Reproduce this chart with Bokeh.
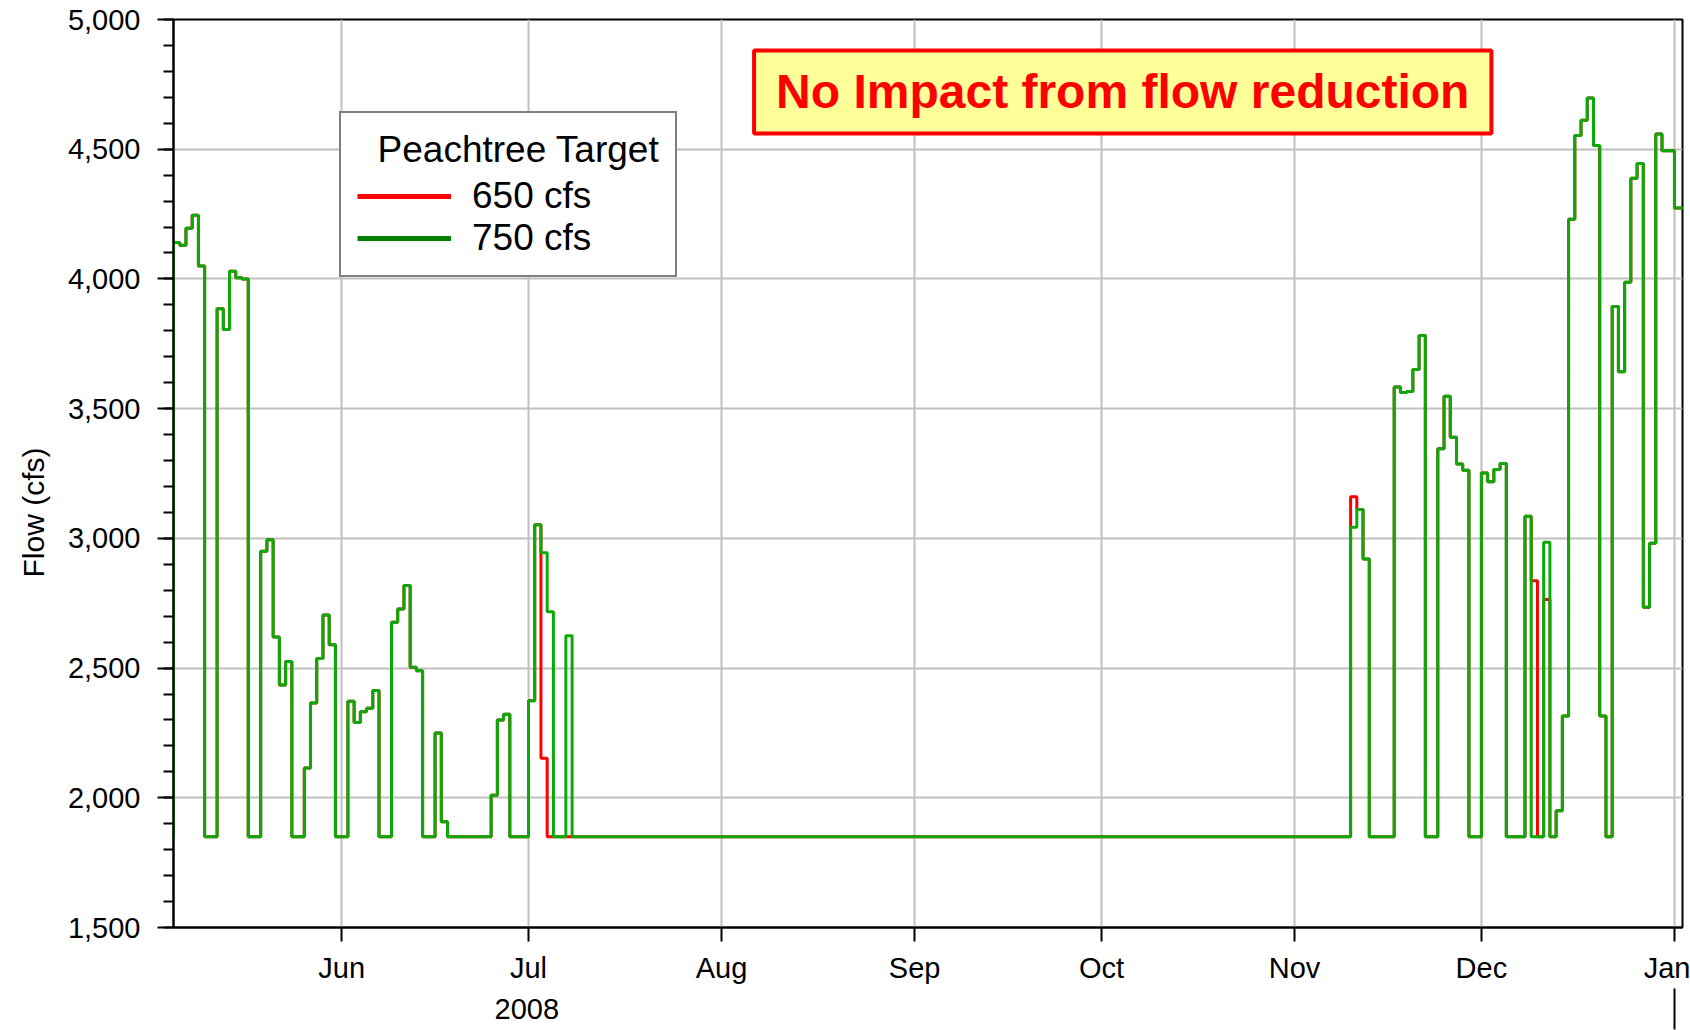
import pandas as pd
from datetime import datetime
from bokeh.plotting import figure
from bokeh.models import (Range1d, FixedTicker, SingleIntervalTicker, DatetimeTickFormatter,
                          NumeralTickFormatter, DatetimeAxis, Legend, LegendItem, Label, Title)
from bokeh.embed import file_html
from bokeh.resources import INLINE

# ---- data: daily flow change points (value holds until the next date) ----
dates = [
    "2008-05-04", "2008-05-05", "2008-05-06", "2008-05-07", "2008-05-08", "2008-05-09",
    "2008-05-10", "2008-05-12", "2008-05-13", "2008-05-14", "2008-05-15", "2008-05-16",
    "2008-05-17", "2008-05-19", "2008-05-20", "2008-05-21", "2008-05-22", "2008-05-23",
    "2008-05-24", "2008-05-26", "2008-05-27", "2008-05-28", "2008-05-29", "2008-05-30",
    "2008-05-31", "2008-06-02", "2008-06-03", "2008-06-04", "2008-06-05", "2008-06-06",
    "2008-06-07", "2008-06-09", "2008-06-10", "2008-06-11", "2008-06-12", "2008-06-13",
    "2008-06-14", "2008-06-16", "2008-06-17", "2008-06-18", "2008-06-25", "2008-06-26",
    "2008-06-27", "2008-06-28", "2008-07-01", "2008-07-02", "2008-07-03", "2008-07-04",
    "2008-07-05", "2008-07-07", "2008-07-08",
    "2008-11-10", "2008-11-11", "2008-11-12", "2008-11-13", "2008-11-17", "2008-11-18",
    "2008-11-19", "2008-11-20", "2008-11-21", "2008-11-22", "2008-11-24", "2008-11-25",
    "2008-11-26", "2008-11-27", "2008-11-28", "2008-11-29", "2008-12-01", "2008-12-02",
    "2008-12-03", "2008-12-04", "2008-12-05", "2008-12-08", "2008-12-09", "2008-12-10",
    "2008-12-11", "2008-12-12", "2008-12-13", "2008-12-14", "2008-12-15", "2008-12-16",
    "2008-12-17", "2008-12-18", "2008-12-19", "2008-12-20", "2008-12-21", "2008-12-22",
    "2008-12-23", "2008-12-24", "2008-12-25", "2008-12-26", "2008-12-27", "2008-12-28",
    "2008-12-29", "2008-12-30", "2009-01-01", "2009-01-03",
]
flow_650 = [
    1850, 4140, 4130, 4195, 4245, 4050,
    1850, 3885, 3805, 4030, 4005, 4000,
    1850, 2950, 2995, 2620, 2435, 2525,
    1850, 2115, 2365, 2537, 2705, 2590,
    1850, 2372, 2290, 2332, 2345, 2414,
    1850, 2677, 2728, 2818, 2503, 2490,
    1850, 2250, 1908, 1850, 2010, 2300,
    2322, 1850, 2374, 3052, 2152, 1850,
    1850, 1850, 1850,
    3160, 3111, 2920, 1850, 3583, 3562,
    3566, 3651, 3782, 1850, 3345, 3548,
    3390, 3287, 3263, 1850, 3252, 3218,
    3265, 3289, 1850, 3085, 2837, 1850,
    2764, 1850, 1950, 2315, 4230, 4553,
    4612, 4697, 4514, 2315, 1850, 3894,
    3642, 3987, 4388, 4445, 2734, 2981,
    4559, 4494, 4273, 4273,
]
flow_750 = [
    1850, 4140, 4130, 4195, 4245, 4050,
    1850, 3885, 3805, 4030, 4005, 4000,
    1850, 2950, 2995, 2620, 2435, 2525,
    1850, 2115, 2365, 2537, 2705, 2590,
    1850, 2372, 2290, 2332, 2345, 2414,
    1850, 2677, 2728, 2818, 2503, 2490,
    1850, 2250, 1908, 1850, 2010, 2300,
    2322, 1850, 2374, 3052, 2945, 2717,
    1850, 2625, 1850,
    3043, 3111, 2920, 1850, 3583, 3562,
    3566, 3651, 3782, 1850, 3345, 3548,
    3390, 3287, 3263, 1850, 3252, 3218,
    3265, 3289, 1850, 3085, 1850, 1850,
    2985, 1850, 1950, 2315, 4230, 4553,
    4612, 4697, 4514, 2315, 1850, 3894,
    3642, 3987, 4388, 4445, 2734, 2981,
    4559, 4494, 4273, 4273,
]
month_ticks = ["2008-06-01", "2008-07-01", "2008-08-01", "2008-09-01", "2008-10-01",
               "2008-11-01", "2008-12-01", "2009-01-01"]
year_label = "2008"
y_label = "Flow (cfs)"
series_names = ["650 cfs", "750 cfs"]
legend_title = "Peachtree Target"
note_text = "No Impact from flow reduction"

x = pd.to_datetime(dates)
FONT = "Liberation Sans"

def ms(d):
    return pd.Timestamp(d).value / 1e6

p = figure(width=1690, height=1030, output_backend="svg", toolbar_location=None,
           x_axis_type="datetime",
           x_range=Range1d(datetime(2008, 5, 5), datetime(2009, 1, 2, 7)),
           y_range=Range1d(1500, 5000),
           min_border_left=173, min_border_top=19, min_border_right=8, min_border_bottom=103)
p.background_fill_color = "white"
p.border_fill_color = "white"
p.outline_line_color = "black"
p.outline_line_width = 2

# x axis (months)
xax = p.xaxis[0]
xax.ticker = FixedTicker(ticks=[ms(d) for d in month_ticks], minor_ticks=[])
fmt = "%b"
xax.formatter = DatetimeTickFormatter(microseconds=fmt, milliseconds=fmt, seconds=fmt, minsec=fmt,
                                      minutes=fmt, hourmin=fmt, hours=fmt, days=fmt,
                                      months=fmt, years=fmt)
xax.major_label_text_font = FONT
xax.major_label_text_font_size = "29px"
xax.major_label_text_color = "black"
xax.major_tick_out = 14
xax.major_tick_in = 0
xax.major_tick_line_width = 2
xax.major_tick_line_color = "black"
xax.axis_line_width = 2
xax.axis_line_color = "black"
xax.major_label_standoff = 10

# y axis
yax = p.yaxis[0]
yax.ticker = SingleIntervalTicker(interval=500, num_minor_ticks=5)
yax.formatter = NumeralTickFormatter(format="0,0")
yax.major_label_text_font = FONT
yax.major_label_text_font_size = "29px"
yax.major_label_text_color = "black"
yax.major_tick_out = 16
yax.major_tick_in = 0
yax.minor_tick_out = 10
yax.minor_tick_in = 0
yax.major_tick_line_width = 2
yax.minor_tick_line_width = 2
yax.major_tick_line_color = "black"
yax.minor_tick_line_color = "black"
yax.axis_line_width = 2
yax.axis_line_color = "black"
yax.major_label_standoff = 17

# y axis title, placed lower than centre as in the original
p.add_layout(Title(text=y_label, align="left", offset=350, standoff=29,
                   text_font=FONT, text_font_size="30px", text_font_style="normal",
                   text_color="black"), "left")

for g in (p.xgrid[0], p.ygrid[0]):
    g.grid_line_color = "#c0c0c0"
    g.grid_line_width = 2

# year label under the month labels
p.add_layout(Title(text=year_label, align="left", offset=321, standoff=21,
                   text_font=FONT, text_font_size="29px", text_font_style="normal",
                   text_color="black"), "below")

# year separator tick at the bottom
blank = ""
sep_axis = DatetimeAxis(ticker=FixedTicker(ticks=[ms("2009-01-01")], minor_ticks=[]),
                        formatter=DatetimeTickFormatter(microseconds=blank, milliseconds=blank,
                                                        seconds=blank, minsec=blank, minutes=blank,
                                                        hourmin=blank, hours=blank, days=blank,
                                                        months=blank, years=blank),
                        axis_line_color=None, major_tick_out=0, major_tick_in=41,
                        major_tick_line_width=2, major_tick_line_color="black",
                        major_label_text_font_size="1px", major_label_standoff=0)
p.add_layout(sep_axis, "below")

# series
p.step(x=x, y=flow_650, mode="after", line_color="#ff0000", line_width=3)
p.step(x=x, y=flow_750, mode="after", line_color="#0aaa0a", line_width=3)

# legend swatches (single point -> draws nothing in the plot)
leg650 = p.line(x=x[:1], y=flow_650[:1], line_color="#ff0000", line_width=5)
leg750 = p.line(x=x[:1], y=flow_750[:1], line_color="#008000", line_width=5)
legend = Legend(items=[LegendItem(label=series_names[0], renderers=[leg650]),
                       LegendItem(label=series_names[1], renderers=[leg750])],
                title="\u00a0\u00a0" + legend_title, location=(166, 650),
                title_text_font=FONT, title_text_font_size="37px", title_text_font_style="normal",
                title_text_color="black", title_standoff=4, title_text_line_height=1.0,
                label_text_font=FONT, label_text_font_size="37px", label_text_color="black",
                label_text_line_height=1.0,
                glyph_width=94, glyph_height=38, label_height=38, label_standoff=21,
                spacing=0, padding=16, margin=0,
                border_line_color="black", border_line_width=2,
                background_fill_color="white", background_fill_alpha=1.0)
p.add_layout(legend)

# annotation box
p.add_layout(Label(x=datetime(2008, 10, 4, 10), y=4721, text=note_text,
                   text_font=FONT, text_font_style="bold", text_font_size="48px",
                   text_color="#ff0000", text_align="center", text_baseline="middle",
                   background_fill_color="#ffff99", background_fill_alpha=1.0,
                   border_line_color="#ff0000", border_line_width=4,
                   padding=dict(left=22, right=22, top=15, bottom=15)))

open("out.html", "w").write(file_html(p, INLINE))
